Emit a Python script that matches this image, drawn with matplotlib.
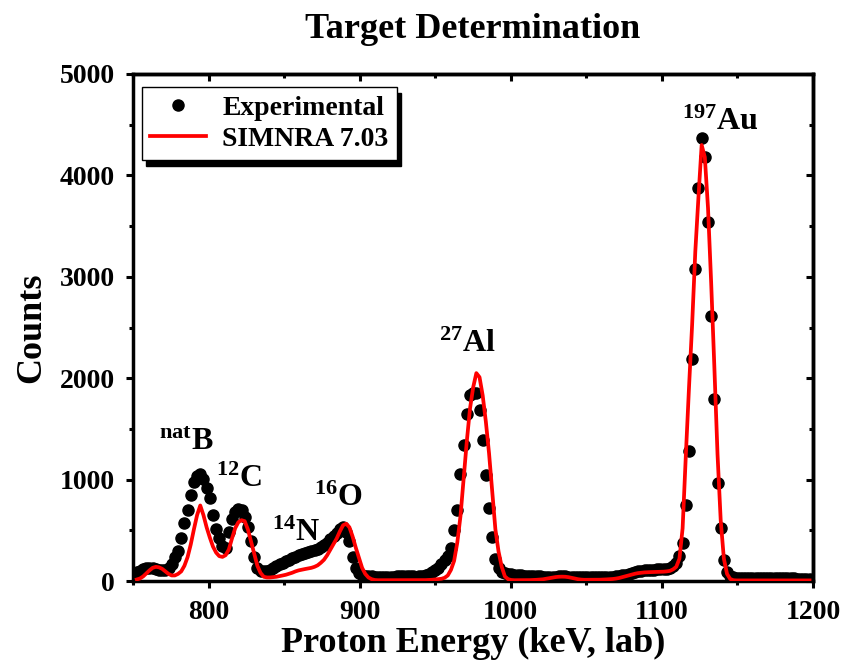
import numpy as np
import matplotlib
matplotlib.use("Agg")
import matplotlib.pyplot as plt
from matplotlib.ticker import MultipleLocator

plt.rcParams['font.family'] = 'Liberation Serif'
plt.rcParams['font.weight'] = 'bold'
plt.rcParams['axes.labelweight'] = 'bold'
plt.rcParams['mathtext.fontset'] = 'custom'
plt.rcParams['mathtext.rm'] = 'Liberation Serif:bold'
plt.rcParams['mathtext.bf'] = 'Liberation Serif:bold'
plt.rcParams['mathtext.default'] = 'bf'

# channel calibration (keV per channel)
e_start = 752.5
e_step = 2.1

# measured spectrum, one value per channel
exp_counts = [
    90, 100, 115, 125, 125, 125, 120, 110, 105, 105,
    125, 170, 240, 300, 420, 570, 700, 850, 980, 1040,
    1060, 1010, 920, 820, 650, 510, 420, 350, 330, 480,
    610, 685, 715, 700, 630, 530, 390, 240, 130, 95,
    95, 100, 110, 125, 145, 165, 180, 195, 210, 225,
    240, 255, 265, 275, 285, 295, 305, 320, 335, 355,
    375, 410, 440, 470, 515, 530, 480, 390, 240, 130,
    80, 55, 48, 45, 45, 44, 43, 42, 42, 42,
    43, 44, 45, 47, 50, 52, 48, 45, 44, 45,
    48, 55, 70, 85, 105, 130, 170, 205, 250, 330,
    500, 700, 1060, 1340, 1650, 1830, 1850, 1850, 1690, 1390,
    1050, 720, 430, 220, 130, 90, 80, 72, 65, 60,
    58, 55, 52, 50, 48, 47, 46, 45, 44, 43,
    42, 42, 43, 45, 46, 45, 43, 42, 40, 40,
    39, 38, 38, 38, 38, 38, 39, 40, 40, 42,
    44, 46, 50, 55, 62, 70, 80, 88, 95, 100,
    104, 108, 110, 113, 115, 118, 120, 122, 130, 150,
    180, 247, 378, 750, 1282, 2186, 3074, 3879, 4372, 4178,
    3544, 2613, 1795, 963, 520, 207, 92, 50, 35, 30,
    30, 29, 29, 28, 28, 28, 27, 27, 27, 26,
    26, 26, 26, 25, 25, 25, 25, 25, 24, 24,
    24, 24, 24,
]

# SIMNRA simulation, same channels
sim_counts = [
    15, 25, 45, 75, 105, 130, 140, 135, 120, 95,
    70, 55, 55, 70, 95, 150, 235, 360, 510, 650,
    745, 650, 530, 430, 340, 280, 245, 238, 255, 310,
    420, 520, 580, 600, 590, 510, 390, 270, 150, 80,
    42, 35, 35, 38, 42, 48, 55, 62, 72, 82,
    95, 105, 112, 118, 124, 130, 140, 155, 180, 210,
    255, 310, 365, 420, 490, 550, 565, 530, 440, 330,
    230, 130, 70, 35, 18, 10, 8, 8, 8, 8,
    8, 8, 8, 8, 8, 8, 8, 8, 8, 8,
    8, 9, 10, 12, 15, 18, 22, 32, 55, 110,
    200, 380, 640, 1010, 1380, 1700, 1910, 2050, 2010, 1830,
    1570, 1260, 880, 510, 290, 140, 45, 18, 10, 8,
    8, 8, 8, 8, 9, 10, 12, 14, 17, 22,
    28, 34, 39, 42, 43, 42, 38, 32, 25, 18,
    14, 12, 12, 12, 12, 12, 13, 14, 16, 18,
    20, 24, 30, 38, 46, 55, 64, 72, 78, 82,
    85, 87, 88, 89, 90, 90, 92, 95, 100, 115,
    140, 220, 520, 1230, 1900, 2530, 3250, 3790, 4300, 4180,
    3680, 2940, 2113, 1250, 600, 220, 70, 20, 8, 6,
    6, 6, 6, 6, 6, 6, 6, 6, 6, 6,
    6, 6, 6, 6, 6, 6, 6, 6, 6, 6,
    6, 6, 6,
]

peak_labels = [r'$^{nat}$B', r'$^{12}$C', r'$^{14}$N', r'$^{16}$O',
               r'$^{27}$Al', r'$^{197}$Au']
peak_x = [785, 820, 858, 886, 971, 1139]
peak_y = [1290, 925, 390, 735, 2255, 4450]

energy = e_start + e_step * np.arange(len(exp_counts))

fig = plt.figure(figsize=(8.44, 6.66), dpi=100)
ax = fig.add_axes([0.1576, 0.1276, 0.8057, 0.7613])

ax.plot(energy, exp_counts, 'o', color='black', ms=8, label='Experimental', zorder=2)
ax.plot(energy, sim_counts, '-', color='red', lw=2.7, label='SIMNRA 7.03', zorder=3)

for lab, x, y in zip(peak_labels, peak_x, peak_y):
    ax.text(x, y, lab, ha='center', va='baseline', fontsize=23)

ax.set_xlim(750, 1200)
ax.set_ylim(0, 5000)
ax.xaxis.set_major_locator(MultipleLocator(100))
ax.xaxis.set_minor_locator(MultipleLocator(50))
ax.yaxis.set_major_locator(MultipleLocator(1000))
ax.yaxis.set_minor_locator(MultipleLocator(500))
ax.tick_params(which='both', direction='out', width=2.2, labelsize=20,
               top=False, right=False)
ax.tick_params(axis='x', pad=9)
ax.tick_params(axis='y', pad=8)
ax.tick_params(which='major', length=5)
ax.tick_params(which='minor', length=3)
for s in ax.spines.values():
    s.set_linewidth(2.5)

# mirrored ticks pointing inward on top and right
top = ax.secondary_xaxis('top')
top.xaxis.set_major_locator(MultipleLocator(100))
top.xaxis.set_minor_locator(MultipleLocator(50))
top.tick_params(which='both', direction='in', width=2.2, labeltop=False)
top.tick_params(which='major', length=5)
top.tick_params(which='minor', length=3)
right = ax.secondary_yaxis('right')
right.yaxis.set_major_locator(MultipleLocator(1000))
right.yaxis.set_minor_locator(MultipleLocator(500))
right.tick_params(which='both', direction='in', width=2.2, labelright=False)
right.tick_params(which='major', length=5)
right.tick_params(which='minor', length=3)
for sec in (top, right):
    for s in sec.spines.values():
        s.set_linewidth(2.5)

ax.set_title('Target Determination', fontsize=26, fontweight='bold', pad=26)
ax.set_xlabel('Proton Energy (keV, lab)', fontsize=26, labelpad=1)
ax.set_ylabel('Counts', fontsize=26, labelpad=8)

leg = ax.legend(loc='upper left', bbox_to_anchor=(0.013, 0.974), borderaxespad=0,
                fancybox=False, edgecolor='black', framealpha=1, fontsize=20,
                shadow={'ox': 3, 'oy': -4, 'facecolor': 'black', 'edgecolor': 'black', 'alpha': 1},
                handlelength=2.0, handletextpad=0.6, borderpad=0.3, labelspacing=0.2)
leg.get_frame().set_linewidth(1.0)

fig.savefig('out.png', dpi=100)
